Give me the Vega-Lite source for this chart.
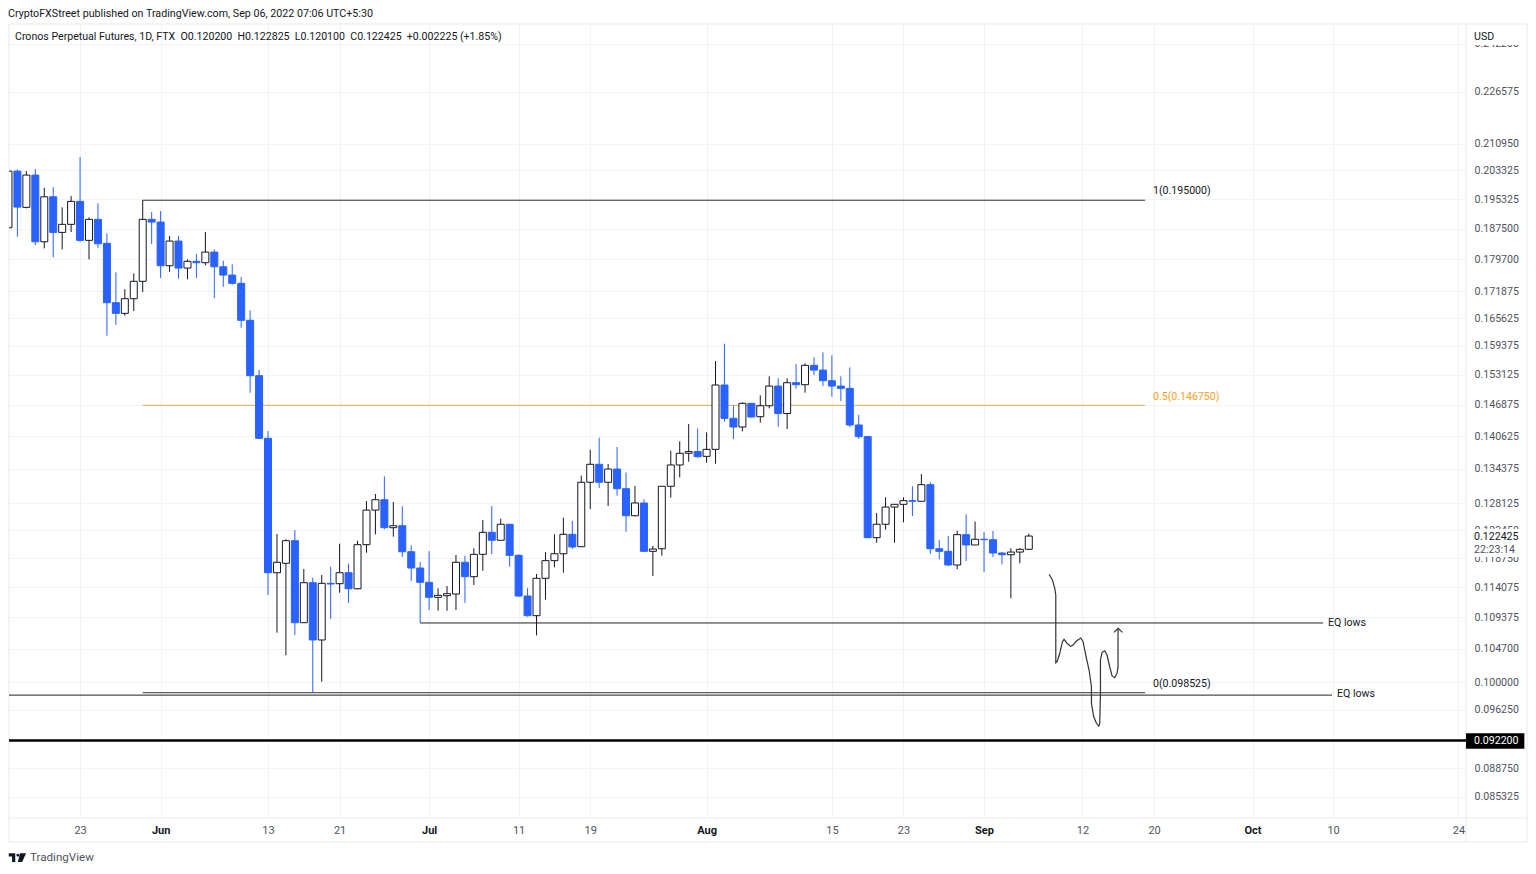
{
  "$schema": "https://vega.github.io/schema/vega-lite/v6.json",
  "width": 1457,
  "height": 794,
  "autosize": "none",
  "padding": {"left": 9, "top": 24, "right": 70, "bottom": 56},
  "background": "white",
  "view": {"stroke": null},
  "title": {
    "text": "CryptoFXStreet published on TradingView.com, Sep 06, 2022 07:06 UTC+5:30",
    "anchor": "start",
    "frame": "group",
    "offset": 4,
    "dx": -1,
    "font": "Roboto",
    "fontSize": 10.7,
    "fontWeight": "normal",
    "color": "#131722"
  },
  "datasets": {
    "candles": [
      {"date": "2022-05-15", "open": 0.18770, "high": 0.20303, "low": 0.18762, "close": 0.20303},
      {"date": "2022-05-16", "open": 0.20303, "high": 0.20351, "low": 0.18537, "close": 0.19316},
      {"date": "2022-05-17", "open": 0.19308, "high": 0.20303, "low": 0.19281, "close": 0.20192},
      {"date": "2022-05-18", "open": 0.20192, "high": 0.20360, "low": 0.18325, "close": 0.18409},
      {"date": "2022-05-19", "open": 0.18409, "high": 0.19839, "low": 0.18241, "close": 0.19594},
      {"date": "2022-05-20", "open": 0.19594, "high": 0.19858, "low": 0.18016, "close": 0.18650},
      {"date": "2022-05-21", "open": 0.18650, "high": 0.19308, "low": 0.18215, "close": 0.18859},
      {"date": "2022-05-22", "open": 0.18859, "high": 0.19613, "low": 0.18658, "close": 0.19470},
      {"date": "2022-05-23", "open": 0.19470, "high": 0.20703, "low": 0.18409, "close": 0.18445},
      {"date": "2022-05-24", "open": 0.18445, "high": 0.19043, "low": 0.17966, "close": 0.18990},
      {"date": "2022-05-25", "open": 0.18990, "high": 0.19416, "low": 0.18256, "close": 0.18358},
      {"date": "2022-05-26", "open": 0.18369, "high": 0.18625, "low": 0.16161, "close": 0.16918},
      {"date": "2022-05-27", "open": 0.16918, "high": 0.17644, "low": 0.16403, "close": 0.16670},
      {"date": "2022-05-28", "open": 0.16670, "high": 0.17240, "low": 0.16615, "close": 0.17012},
      {"date": "2022-05-29", "open": 0.17012, "high": 0.17620, "low": 0.16723, "close": 0.17427},
      {"date": "2022-05-30", "open": 0.17427, "high": 0.19500, "low": 0.17169, "close": 0.18990},
      {"date": "2022-05-31", "open": 0.18990, "high": 0.19182, "low": 0.18351, "close": 0.18919},
      {"date": "2022-06-01", "open": 0.18919, "high": 0.19209, "low": 0.17506, "close": 0.17807},
      {"date": "2022-06-02", "open": 0.17807, "high": 0.18555, "low": 0.17659, "close": 0.18427},
      {"date": "2022-06-03", "open": 0.18427, "high": 0.18555, "low": 0.17489, "close": 0.17750},
      {"date": "2022-06-04", "open": 0.17750, "high": 0.17966, "low": 0.17475, "close": 0.17917},
      {"date": "2022-06-05", "open": 0.17917, "high": 0.18098, "low": 0.17506, "close": 0.17882},
      {"date": "2022-06-06", "open": 0.17882, "high": 0.18658, "low": 0.17817, "close": 0.18148},
      {"date": "2022-06-07", "open": 0.18148, "high": 0.18215, "low": 0.17021, "close": 0.17782},
      {"date": "2022-06-08", "open": 0.17782, "high": 0.17932, "low": 0.17296, "close": 0.17579},
      {"date": "2022-06-09", "open": 0.17579, "high": 0.17842, "low": 0.17344, "close": 0.17378},
      {"date": "2022-06-10", "open": 0.17378, "high": 0.17531, "low": 0.16341, "close": 0.16510},
      {"date": "2022-06-11", "open": 0.16510, "high": 0.16739, "low": 0.14933, "close": 0.15290},
      {"date": "2022-06-12", "open": 0.15290, "high": 0.15416, "low": 0.14005, "close": 0.14019},
      {"date": "2022-06-13", "open": 0.14019, "high": 0.14161, "low": 0.11282, "close": 0.11636},
      {"date": "2022-06-14", "open": 0.11636, "high": 0.12277, "low": 0.10707, "close": 0.11805},
      {"date": "2022-06-15", "open": 0.11789, "high": 0.12188, "low": 0.10377, "close": 0.12164},
      {"date": "2022-06-16", "open": 0.12164, "high": 0.12345, "low": 0.10674, "close": 0.10857},
      {"date": "2022-06-17", "open": 0.10857, "high": 0.11695, "low": 0.10857, "close": 0.11476},
      {"date": "2022-06-18", "open": 0.11476, "high": 0.11556, "low": 0.09853, "close": 0.10600},
      {"date": "2022-06-19", "open": 0.10600, "high": 0.11599, "low": 0.10004, "close": 0.11466},
      {"date": "2022-06-20", "open": 0.11466, "high": 0.11733, "low": 0.10913, "close": 0.11455},
      {"date": "2022-06-21", "open": 0.11460, "high": 0.12113, "low": 0.11317, "close": 0.11636},
      {"date": "2022-06-22", "open": 0.11636, "high": 0.11782, "low": 0.11158, "close": 0.11380},
      {"date": "2022-06-23", "open": 0.11380, "high": 0.12164, "low": 0.11370, "close": 0.12097},
      {"date": "2022-06-24", "open": 0.12097, "high": 0.12852, "low": 0.11963, "close": 0.12691},
      {"date": "2022-06-25", "open": 0.12691, "high": 0.12977, "low": 0.12272, "close": 0.12875},
      {"date": "2022-06-26", "open": 0.12875, "high": 0.13300, "low": 0.12357, "close": 0.12385},
      {"date": "2022-06-27", "open": 0.12385, "high": 0.12834, "low": 0.12232, "close": 0.12419},
      {"date": "2022-06-28", "open": 0.12419, "high": 0.12758, "low": 0.11892, "close": 0.11979},
      {"date": "2022-06-29", "open": 0.11979, "high": 0.12086, "low": 0.11503, "close": 0.11712},
      {"date": "2022-06-30", "open": 0.11712, "high": 0.11810, "low": 0.10853, "close": 0.11482},
      {"date": "2022-07-01", "open": 0.11482, "high": 0.11990, "low": 0.11049, "close": 0.11246},
      {"date": "2022-07-02", "open": 0.11246, "high": 0.11386, "low": 0.11038, "close": 0.11277},
      {"date": "2022-07-03", "open": 0.11271, "high": 0.11423, "low": 0.11038, "close": 0.11302},
      {"date": "2022-07-04", "open": 0.11297, "high": 0.11925, "low": 0.11049, "close": 0.11805},
      {"date": "2022-07-05", "open": 0.11805, "high": 0.11909, "low": 0.11158, "close": 0.11572},
      {"date": "2022-07-06", "open": 0.11572, "high": 0.12036, "low": 0.11439, "close": 0.11936},
      {"date": "2022-07-07", "open": 0.11936, "high": 0.12518, "low": 0.11668, "close": 0.12306},
      {"date": "2022-07-08", "open": 0.12306, "high": 0.12763, "low": 0.11941, "close": 0.12171},
      {"date": "2022-07-09", "open": 0.12171, "high": 0.12540, "low": 0.12171, "close": 0.12444},
      {"date": "2022-07-10", "open": 0.12444, "high": 0.12449, "low": 0.11733, "close": 0.11920},
      {"date": "2022-07-11", "open": 0.11920, "high": 0.11936, "low": 0.11255, "close": 0.11266},
      {"date": "2022-07-12", "open": 0.11266, "high": 0.11391, "low": 0.10948, "close": 0.10963},
      {"date": "2022-07-13", "open": 0.10963, "high": 0.11615, "low": 0.10669, "close": 0.11546},
      {"date": "2022-07-14", "open": 0.11546, "high": 0.11974, "low": 0.11209, "close": 0.11832},
      {"date": "2022-07-15", "open": 0.11832, "high": 0.12272, "low": 0.11723, "close": 0.11946},
      {"date": "2022-07-16", "open": 0.11946, "high": 0.12558, "low": 0.11636, "close": 0.12272},
      {"date": "2022-07-17", "open": 0.12272, "high": 0.12501, "low": 0.12024, "close": 0.12058},
      {"date": "2022-07-18", "open": 0.12063, "high": 0.13311, "low": 0.12058, "close": 0.13190},
      {"date": "2022-07-19", "open": 0.13190, "high": 0.13798, "low": 0.12710, "close": 0.13523},
      {"date": "2022-07-20", "open": 0.13523, "high": 0.14031, "low": 0.13086, "close": 0.13190},
      {"date": "2022-07-21", "open": 0.13190, "high": 0.13528, "low": 0.12763, "close": 0.13434},
      {"date": "2022-07-22", "open": 0.13434, "high": 0.13850, "low": 0.12947, "close": 0.13073},
      {"date": "2022-07-23", "open": 0.13073, "high": 0.13370, "low": 0.12316, "close": 0.12592},
      {"date": "2022-07-24", "open": 0.12592, "high": 0.13122, "low": 0.12582, "close": 0.12817},
      {"date": "2022-07-25", "open": 0.12817, "high": 0.12882, "low": 0.11979, "close": 0.11986},
      {"date": "2022-07-26", "open": 0.11986, "high": 0.12075, "low": 0.11583, "close": 0.12024},
      {"date": "2022-07-27", "open": 0.12029, "high": 0.13122, "low": 0.11914, "close": 0.13117},
      {"date": "2022-07-28", "open": 0.13117, "high": 0.13780, "low": 0.12911, "close": 0.13510},
      {"date": "2022-07-29", "open": 0.13510, "high": 0.13961, "low": 0.13281, "close": 0.13731},
      {"date": "2022-07-30", "open": 0.13731, "high": 0.14299, "low": 0.13572, "close": 0.13763},
      {"date": "2022-07-31", "open": 0.13763, "high": 0.14214, "low": 0.13647, "close": 0.13666},
      {"date": "2022-08-01", "open": 0.13673, "high": 0.14134, "low": 0.13553, "close": 0.13806},
      {"date": "2022-08-02", "open": 0.13806, "high": 0.15604, "low": 0.13534, "close": 0.15094},
      {"date": "2022-08-03", "open": 0.15094, "high": 0.15982, "low": 0.14345, "close": 0.14413},
      {"date": "2022-08-04", "open": 0.14413, "high": 0.14674, "low": 0.14005, "close": 0.14240},
      {"date": "2022-08-05", "open": 0.14240, "high": 0.14736, "low": 0.14154, "close": 0.14715},
      {"date": "2022-08-06", "open": 0.14715, "high": 0.14722, "low": 0.14425, "close": 0.14439},
      {"date": "2022-08-07", "open": 0.14445, "high": 0.14879, "low": 0.14325, "close": 0.14666},
      {"date": "2022-08-08", "open": 0.14666, "high": 0.15277, "low": 0.14613, "close": 0.15072},
      {"date": "2022-08-09", "open": 0.15072, "high": 0.15235, "low": 0.14246, "close": 0.14509},
      {"date": "2022-08-10", "open": 0.14509, "high": 0.15235, "low": 0.14200, "close": 0.15142},
      {"date": "2022-08-11", "open": 0.15142, "high": 0.15539, "low": 0.15016, "close": 0.15100},
      {"date": "2022-08-12", "open": 0.15100, "high": 0.15554, "low": 0.14933, "close": 0.15511},
      {"date": "2022-08-13", "open": 0.15511, "high": 0.15685, "low": 0.15305, "close": 0.15409},
      {"date": "2022-08-14", "open": 0.15409, "high": 0.15793, "low": 0.15072, "close": 0.15184},
      {"date": "2022-08-15", "open": 0.15184, "high": 0.15728, "low": 0.14851, "close": 0.15072},
      {"date": "2022-08-16", "open": 0.15072, "high": 0.15277, "low": 0.14762, "close": 0.15024},
      {"date": "2022-08-17", "open": 0.15024, "high": 0.15467, "low": 0.14240, "close": 0.14280},
      {"date": "2022-08-18", "open": 0.14280, "high": 0.14481, "low": 0.14005, "close": 0.14052},
      {"date": "2022-08-19", "open": 0.14052, "high": 0.14060, "low": 0.12205, "close": 0.12215},
      {"date": "2022-08-20", "open": 0.12215, "high": 0.12639, "low": 0.12130, "close": 0.12444},
      {"date": "2022-08-21", "open": 0.12444, "high": 0.12918, "low": 0.12350, "close": 0.12745},
      {"date": "2022-08-22", "open": 0.12745, "high": 0.12793, "low": 0.12130, "close": 0.12793},
      {"date": "2022-08-23", "open": 0.12793, "high": 0.12918, "low": 0.12478, "close": 0.12858},
      {"date": "2022-08-24", "open": 0.12858, "high": 0.13117, "low": 0.12587, "close": 0.12847},
      {"date": "2022-08-25", "open": 0.12847, "high": 0.13340, "low": 0.12847, "close": 0.13146},
      {"date": "2022-08-26", "open": 0.13146, "high": 0.13190, "low": 0.11946, "close": 0.12029},
      {"date": "2022-08-27", "open": 0.12029, "high": 0.12176, "low": 0.11854, "close": 0.11986},
      {"date": "2022-08-28", "open": 0.11986, "high": 0.12244, "low": 0.11745, "close": 0.11761},
      {"date": "2022-08-29", "open": 0.11761, "high": 0.12333, "low": 0.11691, "close": 0.12266},
      {"date": "2022-08-30", "open": 0.12266, "high": 0.12617, "low": 0.11827, "close": 0.12092},
      {"date": "2022-08-31", "open": 0.12092, "high": 0.12489, "low": 0.12092, "close": 0.12188},
      {"date": "2022-09-01", "open": 0.12188, "high": 0.12311, "low": 0.11647, "close": 0.12181},
      {"date": "2022-09-02", "open": 0.12181, "high": 0.12328, "low": 0.11892, "close": 0.11958},
      {"date": "2022-09-03", "open": 0.11958, "high": 0.11974, "low": 0.11772, "close": 0.11930},
      {"date": "2022-09-04", "open": 0.11930, "high": 0.12036, "low": 0.11230, "close": 0.11974},
      {"date": "2022-09-05", "open": 0.11974, "high": 0.12041, "low": 0.11789, "close": 0.12019},
      {"date": "2022-09-06", "open": 0.12020, "high": 0.122825, "low": 0.12010, "close": 0.122425}
    ],
    "sketch": [
      {"i": 1, "date": "2022-09-08T06:30:00Z", "price": 0.11610},
      {"i": 2, "date": "2022-09-08T15:24:00Z", "price": 0.11519},
      {"i": 3, "date": "2022-09-08T21:42:00Z", "price": 0.11387},
      {"i": 4, "date": "2022-09-09T00:24:00Z", "price": 0.11282},
      {"i": 5, "date": "2022-09-09T00:24:00Z", "price": 0.10271},
      {"i": 6, "date": "2022-09-09T03:54:00Z", "price": 0.10285},
      {"i": 7, "date": "2022-09-09T11:06:00Z", "price": 0.10406},
      {"i": 8, "date": "2022-09-09T18:18:00Z", "price": 0.10575},
      {"i": 9, "date": "2022-09-09T22:36:00Z", "price": 0.10610},
      {"i": 10, "date": "2022-09-10T06:36:00Z", "price": 0.10551},
      {"i": 11, "date": "2022-09-10T15:48:00Z", "price": 0.10507},
      {"i": 12, "date": "2022-09-10T22:42:00Z", "price": 0.10526},
      {"i": 13, "date": "2022-09-11T07:48:00Z", "price": 0.10585},
      {"i": 14, "date": "2022-09-11T19:24:00Z", "price": 0.10629},
      {"i": 15, "date": "2022-09-12T01:36:00Z", "price": 0.10575},
      {"i": 16, "date": "2022-09-12T10:36:00Z", "price": 0.10334},
      {"i": 17, "date": "2022-09-12T17:42:00Z", "price": 0.10168},
      {"i": 18, "date": "2022-09-13T00:00:00Z", "price": 0.09935},
      {"i": 19, "date": "2022-09-13T00:00:00Z", "price": 0.09709},
      {"i": 20, "date": "2022-09-13T06:12:00Z", "price": 0.09530},
      {"i": 21, "date": "2022-09-13T13:24:00Z", "price": 0.09444},
      {"i": 22, "date": "2022-09-13T19:36:00Z", "price": 0.09408},
      {"i": 23, "date": "2022-09-13T22:18:00Z", "price": 0.09444},
      {"i": 24, "date": "2022-09-14T00:12:00Z", "price": 0.09845},
      {"i": 25, "date": "2022-09-14T00:12:00Z", "price": 0.10310},
      {"i": 26, "date": "2022-09-14T04:30:00Z", "price": 0.10420},
      {"i": 27, "date": "2022-09-14T11:42:00Z", "price": 0.10443},
      {"i": 28, "date": "2022-09-14T17:54:00Z", "price": 0.10381},
      {"i": 29, "date": "2022-09-15T01:00:00Z", "price": 0.10214},
      {"i": 30, "date": "2022-09-15T07:18:00Z", "price": 0.10084},
      {"i": 31, "date": "2022-09-15T14:30:00Z", "price": 0.10060},
      {"i": 32, "date": "2022-09-15T20:42:00Z", "price": 0.10121},
      {"i": 33, "date": "2022-09-15T23:18:00Z", "price": 0.10214},
      {"i": 34, "date": "2022-09-15T23:18:00Z", "price": 0.10773}
    ],
    "arrowhead": [
      {"i": 1, "date": "2022-09-15T12:36:00Z", "price": 0.10713},
      {"i": 2, "date": "2022-09-15T23:18:00Z", "price": 0.10773},
      {"i": 3, "date": "2022-09-16T11:00:00Z", "price": 0.10713}
    ],
    "levels": [
      {"kind": "fib", "date": "2022-05-30", "date2": "2022-09-19", "price": 0.195},
      {"kind": "fib_mid", "date": "2022-05-30", "date2": "2022-09-19", "price": 0.14675},
      {"kind": "fib", "date": "2022-05-30", "date2": "2022-09-19", "price": 0.098525},
      {"kind": "eq", "date": "2022-06-30", "date2": "2022-10-08T21:00:00Z", "price": 0.10853},
      {"kind": "eq", "date": "2022-05-15T01:26:00Z", "date2": "2022-10-09T21:00:00Z", "price": 0.0982}
    ],
    "support": [
      {"date": "2022-05-15T01:26:00Z", "date2": "2022-10-24T20:24:00Z", "price": 0.0922}
    ],
    "frame_h": [
      {"date": "2022-05-15T01:26:00Z", "date2": "2022-10-31T16:00:00Z", "price": 0.24896},
      {"date": "2022-05-15T01:26:00Z", "date2": "2022-10-31T16:00:00Z", "price": 0.08282},
      {"date": "2022-05-15T01:26:00Z", "date2": "2022-10-31T16:00:00Z", "price": 0.08011}
    ],
    "frame_v": [
      {"date": "2022-05-15T01:26:00Z", "price": 0.24896, "price2": 0.08011},
      {"date": "2022-10-24T20:24:00Z", "price": 0.24896, "price2": 0.08011},
      {"date": "2022-10-31T16:00:00Z", "price": 0.24896, "price2": 0.08011}
    ],
    "masks": [
      {"date": "2022-10-25T00:00:00Z", "date2": "2022-10-31T12:00:00Z", "price": 0.24850, "price2": 0.24182},
      {"date": "2022-10-25T00:00:00Z", "date2": "2022-10-31T12:00:00Z", "price": 0.12362, "price2": 0.11892}
    ],
    "tag": [
      {"date": "2022-10-24T20:24:00Z", "date2": "2022-10-31T08:53:00Z", "price": 0.09314, "price2": 0.09117}
    ],
    "notes": [
      {"kind": "chart", "date": "2022-05-15T17:30:00Z", "price": 0.24452, "label": "Cronos Perpetual Futures, 1D, FTX\u00a0\u00a0O0.120200\u00a0\u00a0H0.122825\u00a0\u00a0L0.120100\u00a0\u00a0C0.122425\u00a0\u00a0+0.002225 (+1.85%)"},
      {"kind": "chart", "date": "2022-09-19T21:00:00Z", "price": 0.19748, "label": "1(0.195000)"},
      {"kind": "fib_label", "date": "2022-09-19T21:00:00Z", "price": 0.14845, "label": "0.5(0.146750)"},
      {"kind": "chart", "date": "2022-09-19T21:00:00Z", "price": 0.09972, "label": "0(0.098525)"},
      {"kind": "chart", "date": "2022-10-09T10:30:00Z", "price": 0.10853, "label": "EQ lows"},
      {"kind": "chart", "date": "2022-10-10T10:30:00Z", "price": 0.09835, "label": "EQ lows"},
      {"kind": "chart", "date": "2022-10-25T18:00:00Z", "price": 0.24452, "label": "USD"},
      {"kind": "chart", "date": "2022-10-25T18:00:00Z", "price": 0.12227, "label": "0.122425"},
      {"kind": "axis", "date": "2022-10-25T18:00:00Z", "price": 0.12007, "label": "22:23:14"},
      {"kind": "tag", "date": "2022-10-25T18:00:00Z", "price": 0.0922, "label": "0.092200"}
    ],
    "brand": [
      {"date": "2022-05-17T09:50:00Z", "price": 0.07835, "label": "TradingView"}
    ],
    "logo": [
      {"date": "2022-05-16T00:00:00Z", "price": 0.0784}
    ]
  },
  "encoding": {
    "x": {
      "field": "date",
      "type": "temporal",
      "title": null,
      "scale": {"type": "utc", "padding": 0, "domain": ["2022-05-15T01:26:00Z", "2022-10-24T20:24:00Z"]},
      "axis": {
        "values": [
          {"year": 2022, "month": 5, "date": 23, "utc": true},
          {"year": 2022, "month": 6, "date": 1, "utc": true},
          {"year": 2022, "month": 6, "date": 13, "utc": true},
          {"year": 2022, "month": 6, "date": 21, "utc": true},
          {"year": 2022, "month": 7, "date": 1, "utc": true},
          {"year": 2022, "month": 7, "date": 11, "utc": true},
          {"year": 2022, "month": 7, "date": 19, "utc": true},
          {"year": 2022, "month": 8, "date": 1, "utc": true},
          {"year": 2022, "month": 8, "date": 15, "utc": true},
          {"year": 2022, "month": 8, "date": 23, "utc": true},
          {"year": 2022, "month": 9, "date": 1, "utc": true},
          {"year": 2022, "month": 9, "date": 12, "utc": true},
          {"year": 2022, "month": 9, "date": 20, "utc": true},
          {"year": 2022, "month": 10, "date": 1, "utc": true},
          {"year": 2022, "month": 10, "date": 10, "utc": true},
          {"year": 2022, "month": 10, "date": 24, "utc": true}
        ],
        "labelExpr": "utcdate(datum.value) == 1 ? utcFormat(datum.value, '%b') : utcFormat(datum.value, '%-d')",
        "labelFont": "Roboto",
        "labelFontSize": 11,
        "labelColor": {"condition": {"test": "utcdate(datum.value) == 1", "value": "#131722"}, "value": "#50535e"},
        "labelFontWeight": {"condition": {"test": "utcdate(datum.value) == 1", "value": "bold"}, "value": "normal"},
        "labelOverlap": false,
        "labelBound": false,
        "labelFlush": false,
        "labelPadding": 6,
        "ticks": false,
        "domain": false,
        "grid": true,
        "gridColor": "#f0f3fa",
        "gridWidth": 1
      }
    },
    "y": {
      "field": "price",
      "type": "quantitative",
      "title": null,
      "scale": {"type": "log", "domain": [0.08282, 0.24896], "nice": false, "zero": false},
      "axis": {
        "orient": "right",
        "values": [0.2422, 0.226575, 0.21095, 0.203325, 0.195325, 0.1875, 0.1797, 0.171875, 0.165625, 0.159375, 0.153125, 0.146875, 0.140625, 0.134375, 0.128125, 0.12345, 0.11875, 0.114075, 0.109375, 0.1047, 0.1, 0.09625, 0.08875, 0.085325],
        "format": ".6f",
        "labelFont": "Roboto",
        "labelFontSize": 10.6,
        "labelColor": "#50535e",
        "labelOverlap": false,
        "labelBound": false,
        "labelPadding": 8,
        "ticks": false,
        "domain": false,
        "grid": true,
        "gridColor": "#f0f3fa",
        "gridWidth": 1
      }
    }
  },
  "layer": [
    {
      "data": {"name": "masks"},
      "mark": {"type": "rect", "fill": "white"},
      "encoding": {
        "x2": {"field": "date2"},
        "y2": {"field": "price2"}
      }
    },
    {
      "data": {"name": "frame_h"},
      "mark": {"type": "rule", "stroke": "#e6e9f0", "strokeWidth": 1},
      "encoding": {"x2": {"field": "date2"}}
    },
    {
      "data": {"name": "frame_v"},
      "mark": {"type": "rule", "stroke": "#e6e9f0", "strokeWidth": 1},
      "encoding": {"y2": {"field": "price2"}}
    },
    {
      "data": {"name": "tag"},
      "mark": {"type": "rect", "fill": "#000000"},
      "encoding": {
        "x2": {"field": "date2"},
        "y2": {"field": "price2"}
      }
    },
    {
      "data": {"name": "levels"},
      "mark": {"type": "rule", "strokeWidth": 1},
      "encoding": {
        "x2": {"field": "date2"},
        "color": {
          "field": "kind",
          "type": "nominal",
          "legend": null,
          "scale": {
            "domain": ["fib", "fib_mid", "eq", "chart", "axis", "tag", "fib_label"],
            "range": ["#333333", "#e0ab55", "#222222", "#131722", "#50535e", "#ffffff", "#f59f1f"]
          }
        }
      }
    },
    {
      "data": {"name": "support"},
      "mark": {"type": "rule", "stroke": "#000000", "strokeWidth": 2.5},
      "encoding": {"x2": {"field": "date2"}}
    },
    {
      "data": {"name": "candles"},
      "mark": {"type": "rule", "strokeWidth": 1, "clip": true},
      "encoding": {
        "y": {
          "field": "high",
          "type": "quantitative",
          "title": null,
          "scale": {"type": "log", "domain": [0.08282, 0.24896], "nice": false, "zero": false}
        },
        "y2": {"field": "low"},
        "stroke": {
          "condition": {"test": "datum.close >= datum.open", "value": "#131722"},
          "value": "#2962ff"
        }
      }
    },
    {
      "data": {"name": "candles"},
      "mark": {"type": "bar", "size": 7, "strokeWidth": 1, "clip": true},
      "encoding": {
        "y": {
          "field": "open",
          "type": "quantitative",
          "title": null,
          "scale": {"type": "log", "domain": [0.08282, 0.24896], "nice": false, "zero": false}
        },
        "y2": {"field": "close"},
        "fill": {
          "condition": {"test": "datum.close >= datum.open", "value": "#ffffff"},
          "value": "#2962ff"
        },
        "stroke": {
          "condition": {"test": "datum.close >= datum.open", "value": "#131722"},
          "value": "#2962ff"
        }
      }
    },
    {
      "data": {"name": "sketch"},
      "mark": {"type": "line", "stroke": "#333333", "strokeWidth": 1.2},
      "encoding": {"order": {"field": "i", "type": "quantitative"}}
    },
    {
      "data": {"name": "arrowhead"},
      "mark": {"type": "line", "stroke": "#333333", "strokeWidth": 1.2},
      "encoding": {"order": {"field": "i", "type": "quantitative"}}
    },
    {
      "data": {"name": "notes"},
      "mark": {"type": "text", "align": "left", "baseline": "middle", "font": "Roboto", "fontSize": 10.6},
      "encoding": {
        "text": {"field": "label", "type": "nominal"},
        "color": {"field": "kind", "type": "nominal", "legend": null}
      }
    },
    {
      "data": {"name": "brand"},
      "mark": {"type": "text", "align": "left", "baseline": "middle", "font": "Roboto", "fontSize": 11.6, "color": "#50535e"},
      "encoding": {"text": {"field": "label", "type": "nominal"}}
    },
    {
      "data": {"name": "logo"},
      "mark": {
        "type": "point",
        "filled": true,
        "opacity": 1,
        "color": "#131722",
        "size": 300,
        "shape": "M-1,-0.5 L-0.25,-0.5 L-0.25,0.5 L-0.62,0.5 L-0.62,-0.12 L-1,-0.12 Z M-0.12,-0.28 A0.17,0.17 0 1 0 0.22,-0.28 A0.17,0.17 0 1 0 -0.12,-0.28 Z M0.3,-0.5 L1,-0.5 L0.55,0.5 L0.05,0.5 Z"
      }
    }
  ]
}
